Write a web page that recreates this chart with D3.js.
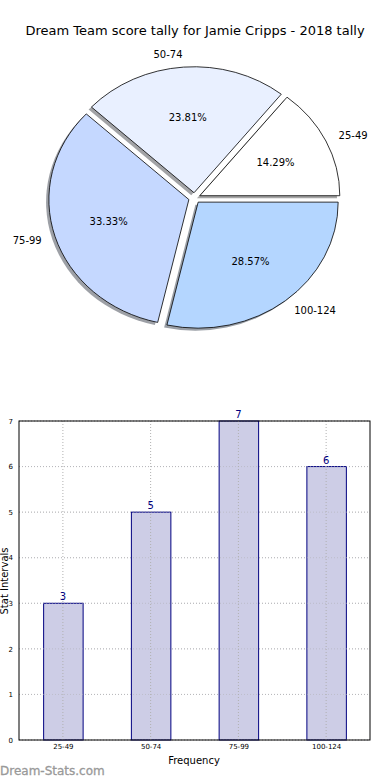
<!DOCTYPE html>
<html><head><meta charset="utf-8">
<script src="https://cdn.jsdelivr.net/npm/d3@7"></script>
<style>body{margin:0;background:#fff;} text{font-family:"DejaVu Sans",sans-serif;}</style>
</head><body>
<script>
const title = "Dream Team score tally for Jamie Cripps - 2018 tally";
const categories = ["25-49","50-74","75-99","100-124"];
const values = [3,5,7,6];
const sliceColors = ["#ffffff","#e9f0ff","#c5d8ff","#b4d6ff"];
const yTicks = [0,1,2,3,4,5,6,7];
const xLabel = "Frequency";
const yLabel = "Stat Intervals";
const watermark = "Dream-Stats.com";

const W=390,H=780;
const svg=d3.select("body").append("svg").attr("width",W).attr("height",H);

svg.append("text").attr("x",195).attr("y",35).attr("text-anchor","middle")
  .attr("font-size",13).text(title);

// PIE
const cx=194.5, cy=198, rx=140, ry=126, expl=0.042, sh=0.02;
const total=d3.sum(values);
const pie=d3.pie().sort(null).startAngle(Math.PI/2).endAngle(Math.PI/2-2*Math.PI);
const arcs=pie(values);
const arcGen=d3.arc().innerRadius(0).outerRadius(1);
const g=svg.append("g").attr("transform",`translate(${cx},${cy}) scale(${rx},${ry})`);
function off(d){const a=(d.startAngle+d.endAngle)/2;return [Math.sin(a)*expl,-Math.cos(a)*expl];}
arcs.forEach((d,i)=>{
  const [ox,oy]=off(d);
  const c=d3.rgb(sliceColors[i]);
  g.append("path").attr("d",arcGen(d))
   .attr("transform",`translate(${ox-sh},${oy+sh})`)
   .attr("fill",d3.rgb(c.r*0.3,c.g*0.3,c.b*0.3)).attr("fill-opacity",0.5);
});
arcs.forEach((d,i)=>{
  const [ox,oy]=off(d);
  g.append("path").attr("d",arcGen(d))
   .attr("transform",`translate(${ox},${oy})`)
   .attr("fill",sliceColors[i]).attr("stroke","#000").attr("stroke-width",0.8)
   .attr("vector-effect","non-scaling-stroke");
});
arcs.forEach((d,i)=>{
  const a=(d.startAngle+d.endAngle)/2;
  const [ox,oy]=off(d);
  const ux=Math.sin(a), uy=-Math.cos(a);
  const px=cx+(ox+0.6*ux)*rx, py=cy+(oy+0.6*uy)*ry;
  svg.append("text").attr("x",px).attr("y",py).attr("text-anchor","middle")
    .attr("dominant-baseline","central").attr("font-size",10)
    .text((values[i]/total*100).toFixed(2)+"%");
  const lx=cx+(ox+1.1*ux)*rx, ly=cy+(oy+1.1*uy)*ry;
  svg.append("text").attr("x",lx).attr("y",ly)
    .attr("text-anchor",ux>0.0001?"start":(ux<-0.0001?"end":"middle"))
    .attr("dominant-baseline","central").attr("font-size",10).text(categories[i]);
});

// BAR
const L=19,R=370,T=421,B=740;
const x=d3.scaleLinear().domain([-0.5,categories.length-0.5]).range([L,R]);
const y=d3.scaleLinear().domain([0,7]).range([B,T]);
const bw=0.45;
const bg=svg.append("g");
bg.selectAll(".gy").data(yTicks).enter().append("line")
  .attr("x1",L).attr("x2",R).attr("y1",d=>y(d)).attr("y2",d=>y(d))
  .attr("stroke","#c0c0c0").attr("stroke-width",1).attr("stroke-dasharray","1,2");
bg.selectAll(".bar").data(values).enter().append("rect")
  .attr("x",(d,i)=>x(i-bw/2)+0.5).attr("width",x(bw)-x(0))
  .attr("y",d=>y(d)).attr("height",d=>B-y(d))
  .attr("fill","#cdcde6").attr("stroke","#000080").attr("stroke-width",1);
bg.selectAll(".gy2").data(yTicks).enter().append("line")
  .attr("x1",L).attr("x2",R).attr("y1",d=>y(d)).attr("y2",d=>y(d))
  .attr("stroke","#b0b0b8").attr("stroke-width",1).attr("stroke-dasharray","1,2").attr("stroke-opacity",0.6);
bg.selectAll(".gx").data(categories).enter().append("line")
  .attr("x1",(d,i)=>x(i)).attr("x2",(d,i)=>x(i)).attr("y1",T).attr("y2",B)
  .attr("stroke","#b0b0b0").attr("stroke-width",1).attr("stroke-dasharray","1,2");
bg.selectAll(".vl").data(values).enter().append("text")
  .attr("x",(d,i)=>x(i)).attr("y",d=>y(d)-3).attr("text-anchor","middle")
  .attr("font-size",10).attr("fill","#000080").text(d=>d);
bg.append("rect").attr("x",L).attr("y",T).attr("width",R-L).attr("height",B-T)
  .attr("fill","none").attr("stroke","#000").attr("stroke-width",1);
const ya=d3.axisLeft(y).tickValues(yTicks).tickFormat(d3.format("d")).tickSize(0).tickPadding(6);
const yg=bg.append("g").attr("transform",`translate(${L},0)`).call(ya);
yg.select(".domain").remove();
yg.selectAll("text").attr("font-size",7).attr("font-family","DejaVu Sans");
const xa=d3.axisBottom(x).tickValues(d3.range(categories.length)).tickFormat(i=>categories[i]).tickSize(0).tickPadding(4);
const xg=bg.append("g").attr("transform",`translate(0,${B})`).call(xa);
xg.select(".domain").remove();
xg.selectAll("text").attr("font-size",7).attr("font-family","DejaVu Sans");
svg.append("text").attr("x",194).attr("y",764).attr("text-anchor","middle").attr("font-size",10).text(xLabel);
svg.append("text").attr("transform","translate(8,581) rotate(-90)").attr("text-anchor","middle").attr("font-size",10).text(yLabel);
svg.append("text").attr("x",0).attr("y",775).attr("font-size",12).attr("fill","#999999").attr("stroke","#999999").attr("stroke-width",0.3).text(watermark);
</script>
</body></html>
